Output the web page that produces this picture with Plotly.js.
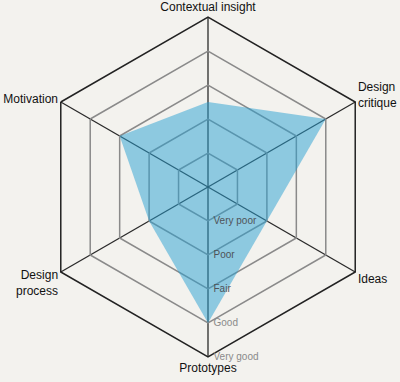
<!DOCTYPE html>
<html>
<head>
<meta charset="utf-8">
<script src="https://cdn.plot.ly/plotly-3.0.1.min.js"></script>
<style>html,body{margin:0;padding:0;background:#f3f2ee;}</style>
</head>
<body>
<div id="chart" style="width:400px;height:382px;"></div>
<script>
const categories = ["Contextual insight", "Design<br>critique", "Ideas", "Prototypes", "Design<br>process", "Motivation"];
const scores = [2.5, 4, 2, 4, 2, 3];
const tickValues = [1, 2, 3, 4, 5];
const tickLabels = ["Very poor", "Poor", "Fair", "Good", "Very good"];

// labels that sit inside the filled area are drawn darker
const styledTicks = tickLabels.map(function (t, i) {
  const c = tickValues[i] < Math.max.apply(null, scores) ? "#4f5358" : "#8a8a8a";
  return '<span style="fill:' + c + '">' + t + '</span>';
});

const trace = {
  type: "scatterpolar",
  r: scores.concat([scores[0]]),
  theta: categories.concat([categories[0]]),
  fill: "toself",
  fillcolor: "rgba(40,160,210,0.5)",
  line: {width: 0, color: "rgba(0,0,0,0)"},
  mode: "lines",
  hoverinfo: "skip"
};

const layout = {
  width: 400, height: 382,
  margin: {l: 38, r: 22, t: 17, b: 25},
  paper_bgcolor: "#f3f2ee",
  plot_bgcolor: "#f3f2ee",
  showlegend: false,
  font: {family: "Liberation Sans, Arial, sans-serif", color: "#111", size: 12},
  polar: {
    bgcolor: "#f3f2ee",
    gridshape: "linear",
    radialaxis: {
      range: [0, 5],
      tickvals: tickValues,
      ticktext: styledTicks,
      angle: -90,
      tickangle: -90,
      side: "counterclockwise",
      showline: false,
      gridcolor: "#8a8a8a",
      gridwidth: 1.5,
      ticks: "outside",
      ticklen: 3,
      tickcolor: "rgba(0,0,0,0)",
      tickfont: {size: 10, color: "#777"},
      layer: "above traces"
    },
    angularaxis: {
      direction: "clockwise",
      rotation: 90,
      showline: true,
      linecolor: "#222",
      linewidth: 1.5,
      gridcolor: "#2a2a2a",
      gridwidth: 1.3,
      ticks: "",
      tickfont: {size: 12, color: "#111"},
      layer: "above traces"
    }
  }
};

Plotly.newPlot("chart", [trace], layout, {displayModeBar: false, staticPlot: true});
</script>
</body>
</html>
